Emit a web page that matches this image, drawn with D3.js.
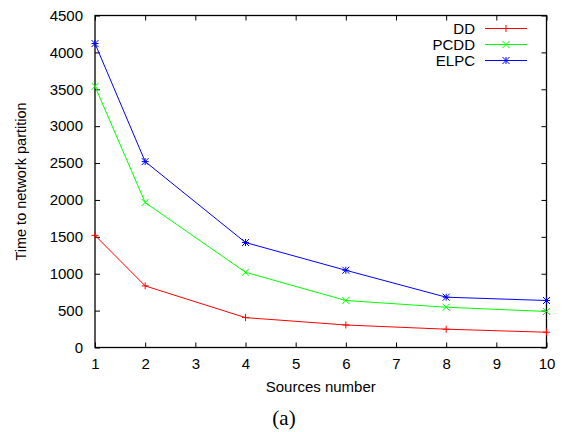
<!DOCTYPE html>
<html>
<head>
<meta charset="utf-8">
<script src="https://cdn.jsdelivr.net/npm/d3@7"></script>
<style>
  body { margin: 0; background: #fff; }
  text { font-family: "Liberation Sans", Arial, sans-serif; fill: #000; }
</style>
</head>
<body>
<div id="chart"></div>
<script>
// data
let sources = [1, 2, 4, 6, 8, 10];
let dd   = [1520, 835, 405, 305, 248, 207];
let pcdd = [3540, 1965, 1020, 637, 546, 488];
let elpc = [4120, 2520, 1423, 1047, 682, 637];
let xTicks = [1, 2, 3, 4, 5, 6, 7, 8, 9, 10];
let yTicks = [0, 500, 1000, 1500, 2000, 2500, 3000, 3500, 4000, 4500];

let series = [
  {name: "DD", values: dd, color: "#ff0000", mark: "plus"},
  {name: "PCDD", values: pcdd, color: "#00ff00", mark: "cross"},
  {name: "ELPC", values: elpc, color: "#0000ff", mark: "star"}
];

let W = 564, H = 432;
let margin = {top: 15.5, left: 95, right: 17.5, bottom: 84.5},
  width = W - margin.left - margin.right,
  height = H - margin.top - margin.bottom;

let svg = d3.select('#chart')
  .append('svg')
  .attr('width', W)
  .attr('height', H);

let xScale = d3.scaleLinear().domain([1, 10]).range([0, width]);
let yScale = d3.scaleLinear().domain([0, 4500]).range([height, 0]);

let g = svg.append("g")
  .attr("transform", "translate(" + margin.left + "," + margin.top + ")");

// axes with gnuplot style inward ticks, mirrored
let tl = 5;
g.append("g")
  .attr("transform", "translate(0," + height + ")")
  .call(d3.axisBottom(xScale).tickValues(xTicks).tickFormat(d3.format("d")).tickSize(-tl).tickPadding(11).tickSizeOuter(0));
g.append("g")
  .call(d3.axisTop(xScale).tickValues(xTicks).tickSize(-tl).tickFormat("").tickSizeOuter(0));
g.append("g")
  .call(d3.axisLeft(yScale).tickValues(yTicks).tickFormat(d3.format("d")).tickSize(-tl).tickPadding(12).tickSizeOuter(0));
g.append("g")
  .attr("transform", "translate(" + width + ",0)")
  .call(d3.axisRight(yScale).tickValues(yTicks).tickSize(-tl).tickFormat("").tickSizeOuter(0));

g.selectAll(".domain").remove();
g.selectAll(".tick line").attr("stroke", "#000").attr("stroke-width", 1);
g.selectAll(".tick text").style("font-size", "15px").attr("fill", "#000");

g.append("rect")
  .attr("x", 0).attr("y", 0)
  .attr("width", width).attr("height", height)
  .attr("fill", "none").attr("stroke", "#000").attr("stroke-width", 1.3);

// marker drawing
function markPath(type, s) {
  if (type === "plus") return "M" + -s + ",0H" + s + "M0," + -s + "V" + s;
  if (type === "cross") return "M" + -s + "," + -s + "L" + s + "," + s + "M" + -s + "," + s + "L" + s + "," + -s;
  return "M" + -s + ",0H" + s + "M0," + -s + "V" + s +
         "M" + -s + "," + -s + "L" + s + "," + s + "M" + -s + "," + s + "L" + s + "," + -s;
}

let line = d3.line()
  .x(function(d) { return xScale(d.x); })
  .y(function(d) { return yScale(d.y); });

series.forEach(function(s) {
  let pts = sources.map(function(x, i) { return {x: x, y: s.values[i]}; });
  g.append("path")
    .datum(pts)
    .attr("d", line)
    .attr("fill", "none")
    .attr("stroke", s.color)
    .attr("stroke-width", 1);
  g.selectAll(null)
    .data(pts)
    .enter()
    .append("path")
      .attr("transform", function(d) { return "translate(" + xScale(d.x) + "," + yScale(d.y) + ")"; })
      .attr("d", markPath(s.mark, 3.5))
      .attr("fill", "none")
      .attr("stroke", s.color)
      .attr("stroke-width", 1);
});

// legend
let legend = svg.append("g");
series.forEach(function(s, i) {
  let y = 28.5 + i * 16;
  legend.append("text")
    .attr("x", 475).attr("y", y)
    .attr("dy", "0.35em")
    .attr("text-anchor", "end")
    .style("font-size", "15px")
    .text(s.name);
  legend.append("line")
    .attr("x1", 485).attr("x2", 527)
    .attr("y1", y).attr("y2", y)
    .attr("stroke", s.color).attr("stroke-width", 1);
  legend.append("path")
    .attr("transform", "translate(506," + y + ")")
    .attr("d", markPath(s.mark, 3.5))
    .attr("fill", "none")
    .attr("stroke", s.color);
});

// axis titles
svg.append("text")
  .attr("transform", "translate(26," + (margin.top + height / 2) + ") rotate(-90)")
  .attr("text-anchor", "middle")
  .style("font-size", "14.5px")
  .text("Time to network partition");

svg.append("text")
  .attr("x", margin.left + width / 2).attr("y", 392)
  .attr("text-anchor", "middle")
  .style("font-size", "15px")
  .text("Sources number");

svg.append("text")
  .attr("x", 284).attr("y", 425)
  .attr("text-anchor", "middle")
  .style("font-family", "'Liberation Serif', 'Times New Roman', serif")
  .style("font-size", "21px")
  .text("(a)");
</script>
</body>
</html>
